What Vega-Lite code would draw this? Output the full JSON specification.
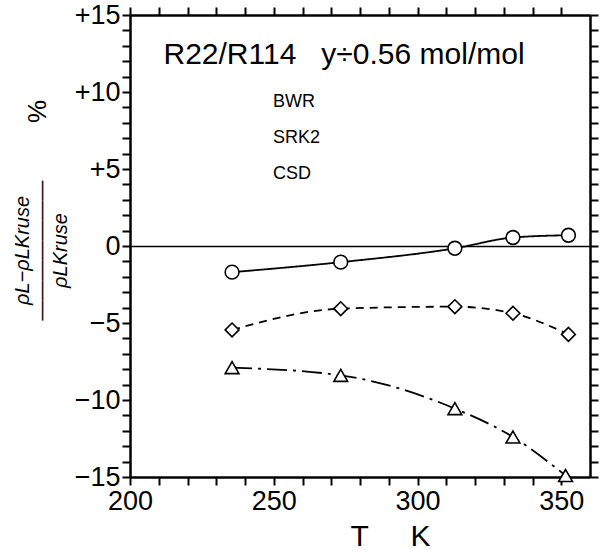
{
  "$schema": "https://vega.github.io/schema/vega-lite/v6.json",
  "width": 460,
  "height": 462,
  "autosize": {"type": "none"},
  "padding": {"left": 130, "top": 15, "right": 12, "bottom": 73},
  "background": "white",
  "config": {
    "view": {"stroke": null},
    "axis": {
      "domainColor": "black", "domainWidth": 2.5, "tickColor": "black", "tickWidth": 2,
      "labelFont": "Liberation Sans", "labelFontSize": 27, "labelColor": "black",
      "grid": false, "titleFont": "Liberation Sans", "titleColor": "black",
      "titleFontWeight": "normal", "labelFlush": false, "labelOverlap": false, "labelBound": false
    }
  },
  "datasets": {
    "pts": [
      {"model": "BWR", "T": 235.5, "dev": -1.7},
      {"model": "BWR", "T": 273.3, "dev": -1.05},
      {"model": "BWR", "T": 313.0, "dev": -0.15},
      {"model": "BWR", "T": 333.2, "dev": 0.55},
      {"model": "BWR", "T": 352.5, "dev": 0.7},
      {"model": "SRK2", "T": 235.5, "dev": -7.9},
      {"model": "SRK2", "T": 273.3, "dev": -8.4},
      {"model": "SRK2", "T": 313.0, "dev": -10.56},
      {"model": "SRK2", "T": 333.2, "dev": -12.4},
      {"model": "SRK2", "T": 351.5, "dev": -14.9},
      {"model": "CSD", "T": 235.5, "dev": -5.45},
      {"model": "CSD", "T": 273.3, "dev": -4.07},
      {"model": "CSD", "T": 313.0, "dev": -3.94},
      {"model": "CSD", "T": 333.2, "dev": -4.37},
      {"model": "CSD", "T": 352.5, "dev": -5.74}
    ]
  },
  "resolve": {"scale": {"x": "independent", "y": "independent"}},
  "layer": [
    {
      "data": {"name": "pts"},
      "mark": {"type": "line", "interpolate": "monotone", "strokeWidth": 1.8, "color": "black"},
      "encoding": {
        "x": {
          "field": "T", "type": "quantitative",
          "scale": {"domain": [200, 360], "nice": false, "zero": false},
          "axis": {
            "orient": "bottom",
            "values": [200, 210, 220, 230, 240, 250, 260, 270, 280, 290, 300, 310, 320, 330, 340, 350],
            "labelExpr": "datum.value % 50 === 0 ? datum.label : ''",
            "tickSize": 8,
            "labelPadding": 3,
            "title": "T\u00a0\u00a0\u00a0\u00a0\u00a0K",
            "titleFontSize": 30,
            "titleX": 260,
            "titleY": 68,
            "titleAlign": "center",
            "titleBaseline": "alphabetic"
          }
        },
        "y": {
          "field": "dev", "type": "quantitative",
          "scale": {"domain": [-15, 15], "nice": false, "zero": false},
          "axis": {
            "orient": "left",
            "values": [-15, -14, -13, -12, -11, -10, -9, -8, -7, -6, -5, -4, -3, -2, -1, 0, 1, 2, 3, 4, 5, 6, 7, 8, 9, 10, 11, 12, 13, 14, 15],
            "labelExpr": "datum.value % 5 === 0 ? (datum.value > 0 ? '+' + datum.label : datum.label) : ''",
            "tickSize": 8,
            "labelPadding": 2,
            "grid": true,
            "gridColor": "black",
            "gridWidth": 1.5,
            "gridOpacity": {"condition": {"test": "datum.value === 0", "value": 1}, "value": 0},
            "title": ["ρL−ρLKruse", "———————", "ρLKruse"],
            "titleFontSize": 20,
            "titleFontStyle": "italic",
            "titleLineHeight": 19,
            "titleAngle": -90,
            "titleX": -108,
            "titleY": 235,
            "titleAlign": "center",
            "titleBaseline": "middle"
          }
        },
        "strokeDash": {
          "field": "model", "type": "nominal",
          "scale": {"domain": ["CSD", "BWR", "SRK2"], "range": [[8, 6], [1, 0], [20, 6, 3, 6]]},
          "legend": null
        }
      }
    },
    {
      "data": {"name": "pts"},
      "mark": {"type": "point", "filled": true, "fill": "white", "stroke": "black", "strokeWidth": 1.6, "size": 190, "opacity": 1},
      "encoding": {
        "x": {
          "field": "T", "type": "quantitative",
          "scale": {"domain": [200, 360], "nice": false, "zero": false},
          "axis": {
            "orient": "top",
            "values": [200, 210, 220, 230, 240, 250, 260, 270, 280, 290, 300, 310, 320, 330, 340, 350],
            "labels": false,
            "tickSize": 8,
            "title": "%",
            "titleFontSize": 26,
            "titleAngle": 270,
            "titleX": -93,
            "titleY": 96,
            "titleAlign": "center",
            "titleBaseline": "middle"
          }
        },
        "y": {
          "field": "dev", "type": "quantitative",
          "scale": {"domain": [-15, 15], "nice": false, "zero": false},
          "axis": {
            "orient": "right",
            "values": [-15, -14, -13, -12, -11, -10, -9, -8, -7, -6, -5, -4, -3, -2, -1, 0, 1, 2, 3, 4, 5, 6, 7, 8, 9, 10, 11, 12, 13, 14, 15],
            "labels": false,
            "tickSize": 8,
            "title": "R22/R114\u00a0\u00a0\u00a0y÷0.56 mol/mol",
            "titleFontSize": 30,
            "titleAngle": 0,
            "titleX": -427,
            "titleY": 48,
            "titleAlign": "left",
            "titleBaseline": "alphabetic"
          }
        },
        "shape": {
          "field": "model", "type": "nominal",
          "scale": {"domain": ["BWR", "SRK2", "CSD"], "range": ["circle", "triangle-up", "diamond"]},
          "legend": {
            "orient": "none", "legendX": 95, "legendY": 78, "title": null,
            "labelFont": "Liberation Sans", "labelFontSize": 18, "labelColor": "black",
            "symbolSize": 190, "symbolStrokeWidth": 1.6, "symbolStrokeColor": "black", "symbolFillColor": "white",
            "rowPadding": 15, "labelOffset": 30
          }
        }
      }
    }
  ]
}
